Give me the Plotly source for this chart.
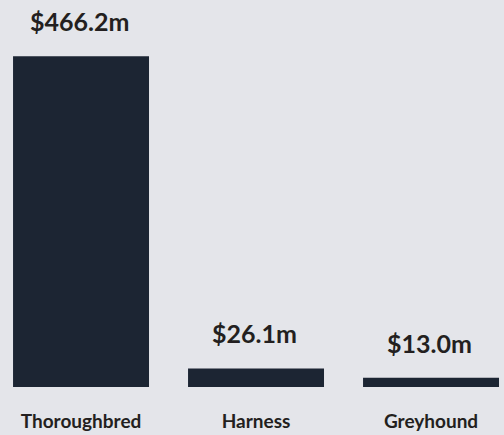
import plotly.graph_objects as go

# Wagering turnover by racing code ($ millions)
codes = ["Thoroughbred", "Harness", "Greyhound"]
turnover = [466.2, 26.1, 13.0]
value_labels = ["$466.2m", "$26.1m", "$13.0m"]

bg = "#e4e5ea"
bar_color = "#1c2533"
text_color = "#231f20"
font_family = "Lato, 'Open Sans', sans-serif"

fig = go.Figure(
    go.Bar(
        x=codes,
        y=turnover,
        marker=dict(color=bar_color, line=dict(width=0)),
        width=0.777,
        hoverinfo="skip",
    )
)

for code, val, lab in zip(codes, turnover, value_labels):
    fig.add_annotation(
        x=code, y=val, text=lab, showarrow=False,
        yanchor="bottom", yshift=18, xshift=-2,
        font=dict(family=font_family, size=25, color=text_color, weight="bold"),
    )

fig.update_layout(
    width=504, height=435,
    margin=dict(l=0, r=0, t=0, b=48),
    paper_bgcolor=bg, plot_bgcolor=bg,
    showlegend=False,
    xaxis=dict(
        range=[-0.463, 2.417],
        showgrid=False, zeroline=False, showline=False, ticks="",
        tickfont=dict(family=font_family, size=19, color=text_color, weight="bold"),
        ticklabelstandoff=21,
        fixedrange=True,
    ),
    yaxis=dict(
        range=[0, 545.6], visible=False, showgrid=False, zeroline=False,
        fixedrange=True,
    ),
)

fig.write_html("out.html", config={"displayModeBar": False})
